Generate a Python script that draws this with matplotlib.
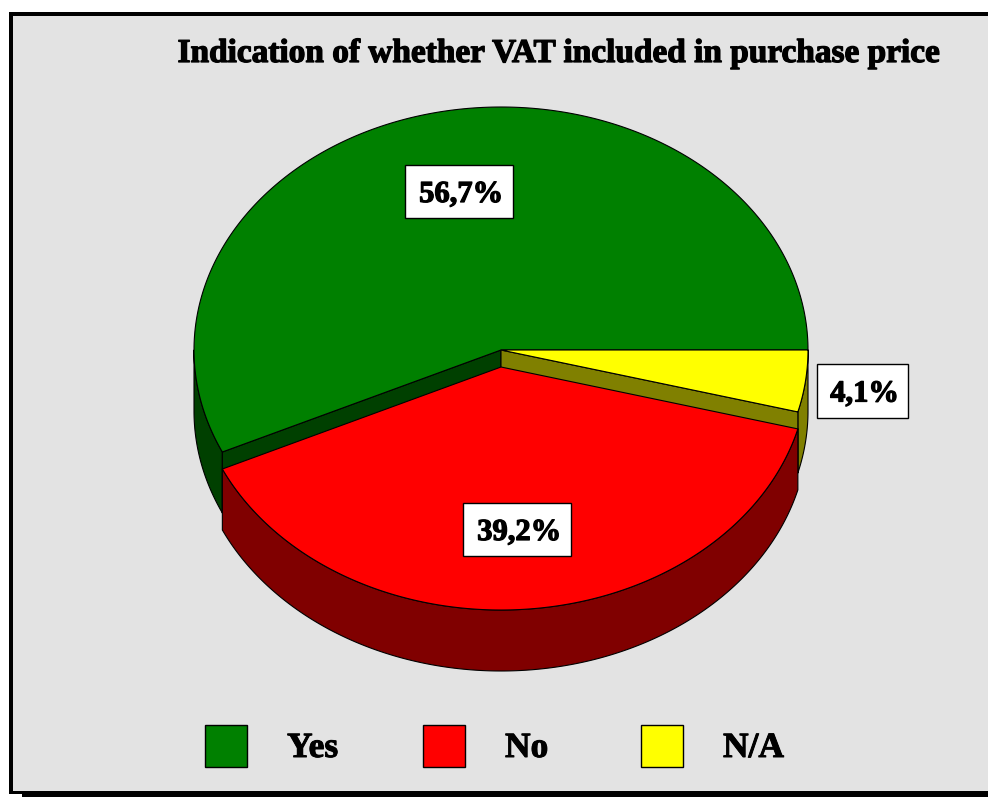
import numpy as np
import matplotlib
matplotlib.use("Agg")
import matplotlib.pyplot as plt
import matplotlib.patheffects as pe
from matplotlib.patches import Polygon, Rectangle

title = "Indication of whether VAT included in purchase price"
categories = ["Yes", "No", "N/A"]
shares = [56.7, 39.2, 4.1]
value_labels = ["56,7%", "39,2%", "4,1%"]

top_colors = ["#008000", "#FF0000", "#FFFF00"]
side_colors = ["#004000", "#800000", "#808000"]
BG = "#E3E3E3"

W, H = 988, 798
fig = plt.figure(figsize=(W / 100, H / 100), dpi=100, facecolor="white")
ax = fig.add_axes([0, 0, 1, 1])
ax.set_xlim(0, W)
ax.set_ylim(H, 0)
ax.axis("off")

FONT = "Liberation Serif"
def bold(lw):
    return [pe.withStroke(linewidth=lw, foreground="black")]

# frame, with a drop shadow at the lower left
ax.add_patch(Rectangle((22, 20), W, 777, fc="black", ec="none", zorder=0))
ax.add_patch(Rectangle((9, 12), W, 782, fc="black", ec="none", zorder=0.5))
ax.add_patch(Rectangle((13, 16), W, 775, fc=BG, ec="none", zorder=1))

ax.text(559, 62, title, family=FONT, weight="bold", fontsize=24, ha="center", va="baseline",
        color="black", path_effects=bold(0.9), zorder=20)

# pie geometry
cx, cy, rx, ry, depth, explode = 501, 350, 307, 243, 61, 17
cum = np.cumsum([0] + shares) / sum(shares) * 360
cum[1] += 0.7  # the original's projection moves this boundary slightly
ranges = {"Yes": (cum[0], cum[1]), "No": (cum[1], cum[2]), "N/A": (cum[2], cum[3])}

def arc(t1, t2, oy=0, n=240):
    t = np.radians(np.linspace(t1, t2, n))
    return np.column_stack([cx + rx * np.cos(t), cy + oy - ry * np.sin(t)])

def poly(pts, fc, z):
    ax.add_patch(Polygon(pts, closed=True, fc=fc, ec="black", lw=0.8, joinstyle="round", zorder=z))

def slab(i, oy, z):
    t1, t2 = ranges[categories[i]]
    top = arc(t1, t2, oy)
    apex = np.array([[cx, cy + oy]])
    # outer wall: only the arc part that faces the viewer
    lo, hi = max(t1, 180), min(t2, 360)
    if hi > lo:
        a = arc(lo, hi, oy)
        poly(np.vstack([a, arc(lo, hi, oy + depth)[::-1]]), side_colors[i], z)
    return top, apex

# Yes
t_yes, a_yes = slab(0, 0, 2)
poly(np.vstack([a_yes, t_yes[-1:], t_yes[-1:] + [0, depth], a_yes + [0, depth]]), side_colors[0], 3)
# N/A
t_na, a_na = slab(2, 0, 2)
poly(np.vstack([a_na, t_na[:1], t_na[:1] + [0, depth], a_na + [0, depth]]), side_colors[2], 3)
poly(np.vstack([a_yes, t_yes]), top_colors[0], 4)
poly(np.vstack([a_na, t_na]), top_colors[2], 4)
# No, pulled towards the viewer
t_no, a_no = slab(1, explode, 5)
poly(np.vstack([a_no, t_no]), top_colors[1], 6)

# value boxes
boxes = [(405, 165, 108, 53), (463, 503, 108, 53), (817, 364, 91, 54)]
for (x, y, w, h), lab in zip(boxes, value_labels):
    ax.add_patch(Rectangle((x, y), w, h, fc="white", ec="black", lw=1.0, zorder=10))
    ax.text(x + w / 2 + 2, y + h / 2 + 3, lab, family=FONT, weight="bold", fontsize=22, ha="center",
            va="center", color="black", path_effects=bold(0.9), zorder=11)

# legend
swatch_x = [205, 423, 641]
text_x = [287, 505, 723]
for sx, tx, name, col in zip(swatch_x, text_x, categories, top_colors):
    ax.add_patch(Rectangle((sx, 725), 42, 42, fc=col, ec="black", lw=1.0, zorder=10))
    ax.text(tx, 757, name, family=FONT, weight="bold", fontsize=25.5, ha="left", va="baseline",
            color="black", path_effects=bold(0.7), zorder=11)

fig.savefig("out.png", dpi=100, facecolor="white")
